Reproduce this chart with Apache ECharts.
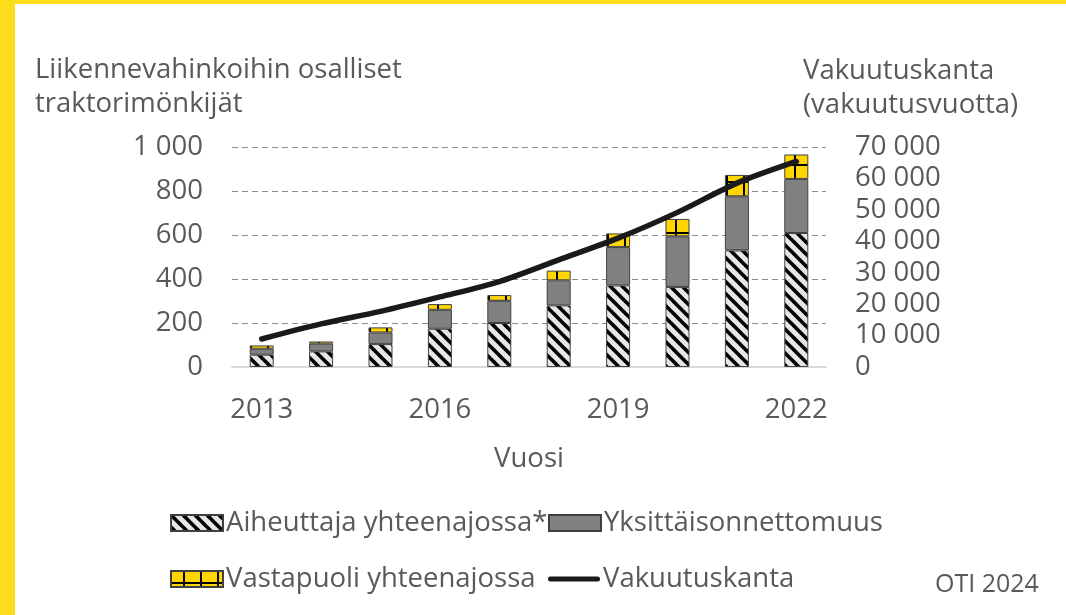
<!DOCTYPE html>
<html>
<head>
<meta charset="utf-8">
<script src="https://cdn.jsdelivr.net/npm/echarts@6/dist/echarts.min.js"></script>
<style>
  html, body { margin: 0; padding: 0; background: #fff; }
  #chart { width: 1066px; height: 615px; }
</style>
</head>
<body>
<div id="chart"></div>
<script>
// Vuodet ja sarjat
const years = ['2013', '2014', '2015', '2016', '2017', '2018', '2019', '2020', '2021', '2022'];
const aiheuttaja = [56, 71, 104, 174, 200, 280, 371, 364, 530, 609];
const yksittais = [27, 35, 53, 86, 101, 114, 174, 230, 246, 246];
const vastapuoli = [15, 10, 23, 26, 26, 44, 62, 79, 97, 111];
const vakuutuskanta = [8900, 13700, 17700, 22300, 27200, 34100, 41000, 49200, 58500, 65400];

const leftTicks = [0, 200, 400, 600, 800, 1000];
const rightTicks = [0, 10000, 20000, 30000, 40000, 50000, 60000, 70000];

const FONT = '"Open Sans", "Noto Sans", sans-serif';
const TEXT = '#595959';
const FS = 27.5;

const fmt = (v) => String(v).replace(/\B(?=(\d{3})+(?!\d))/g, ' ');

// vinoviivakuvio
function hatchTile() {
  const c = document.createElement('canvas');
  c.width = 12; c.height = 12;
  const g = c.getContext('2d');
  g.fillStyle = '#e6e6e6';
  g.fillRect(0, 0, 12, 12);
  g.strokeStyle = '#000';
  g.lineWidth = 3.6;
  [-12, 0, 12].forEach((k) => {
    g.beginPath();
    g.moveTo(k - 3, -3);
    g.lineTo(k + 15, 15);
    g.stroke();
  });
  return c;
}

// ruudukkokuvio
function gridTile() {
  const c = document.createElement('canvas');
  c.width = 17; c.height = 17;
  const g = c.getContext('2d');
  g.fillStyle = '#ffd500';
  g.fillRect(0, 0, 17, 17);
  g.fillStyle = '#000';
  g.fillRect(12, 0, 2, 17);
  g.fillRect(0, 11, 17, 2);
  return c;
}

const lineIcon = 'path://M2.5,0 L49.5,0 A2.5,2.5 0 0 1 49.5,5 L2.5,5 A2.5,2.5 0 0 1 2.5,0 Z';

const chart = echarts.init(document.getElementById('chart'));

chart.setOption({
  animation: false,
  textStyle: { fontFamily: FONT },
  graphic: [
    { type: 'rect', left: 0, top: 0, shape: { width: 15, height: 615 }, style: { fill: '#fddc1c' } },
    { type: 'rect', left: 0, top: 0, shape: { width: 1066, height: 4 }, style: { fill: '#fddc1c' } },
    {
      type: 'text', left: 35, top: 53,
      style: { text: 'Liikennevahinkoihin osalliset\ntraktorimönkijät', font: FS + 'px ' + FONT, fill: TEXT, lineHeight: 34 }
    },
    {
      type: 'text', left: 803, top: 54,
      style: { text: 'Vakuutuskanta\n(vakuutusvuotta)', font: FS + 'px ' + FONT, fill: TEXT, lineHeight: 34 }
    },
    {
      type: 'text', left: 935, top: 572,
      style: { text: 'OTI 2024', font: '25px ' + FONT, fill: TEXT }
    }
  ],
  legend: [
    { data: [{ name: 'Aiheuttaja yhteenajossa*', icon: 'rect' }], left: 170, top: 509 },
    { data: [{ name: 'Yksittäisonnettomuus', icon: 'rect' }], left: 548, top: 509 },
    { data: [{ name: 'Vastapuoli yhteenajossa', icon: 'rect' }], left: 170, top: 565 },
    { data: [{ name: 'Vakuutuskanta', icon: lineIcon }], left: 548, top: 565 }
  ].map((l) => Object.assign(l, {
    itemWidth: 52, itemHeight: 16, itemGap: 0, padding: 0,
    textStyle: { fontSize: FS, color: TEXT, fontFamily: FONT, padding: [0, 0, 0, -2] }
  })),
  grid: { left: 232, right: 240, top: 147, bottom: 248, containLabel: false },
  xAxis: {
    type: 'category',
    data: years,
    name: 'Vuosi',
    nameLocation: 'middle',
    nameGap: 78,
    nameTextStyle: { fontSize: FS, color: TEXT },
    axisTick: { show: false },
    axisLine: { lineStyle: { color: '#d9d9d9', width: 2 } },
    axisLabel: { interval: 2, fontSize: FS, color: TEXT, margin: 29 }
  },
  yAxis: [
    {
      type: 'value', min: leftTicks[0], max: leftTicks[leftTicks.length - 1], interval: 200,
      axisLine: { show: false }, axisTick: { show: false },
      axisLabel: { fontSize: FS, color: TEXT, margin: 29, formatter: fmt },
      splitLine: { lineStyle: { color: '#8c8c8c', type: [6, 4], width: 1 } }
    },
    {
      type: 'value', min: rightTicks[0], max: rightTicks[rightTicks.length - 1], interval: 10000,
      axisLine: { show: false }, axisTick: { show: false },
      axisLabel: { fontSize: FS, color: TEXT, margin: 29, formatter: fmt },
      splitLine: { show: false }
    }
  ],
  series: [
    {
      name: 'Aiheuttaja yhteenajossa*', type: 'bar', stack: 'a', barWidth: 24, data: aiheuttaja,
      itemStyle: { color: { image: hatchTile(), repeat: 'repeat' }, borderColor: '#404040', borderWidth: 1 }
    },
    {
      name: 'Yksittäisonnettomuus', type: 'bar', stack: 'a', barWidth: 24, data: yksittais,
      itemStyle: { color: '#808080', borderColor: '#404040', borderWidth: 1 }
    },
    {
      name: 'Vastapuoli yhteenajossa', type: 'bar', stack: 'a', barWidth: 24, data: vastapuoli,
      itemStyle: { color: { image: gridTile(), repeat: 'repeat' }, borderColor: '#404040', borderWidth: 1 }
    },
    {
      name: 'Vakuutuskanta', type: 'line', yAxisIndex: 1, data: vakuutuskanta,
      smooth: 0.3, symbol: 'none', z: 5,
      lineStyle: { color: '#1a1a1a', width: 5.5, cap: 'round' },
      itemStyle: { color: '#1a1a1a' }
    }
  ]
});
</script>
</body>
</html>
